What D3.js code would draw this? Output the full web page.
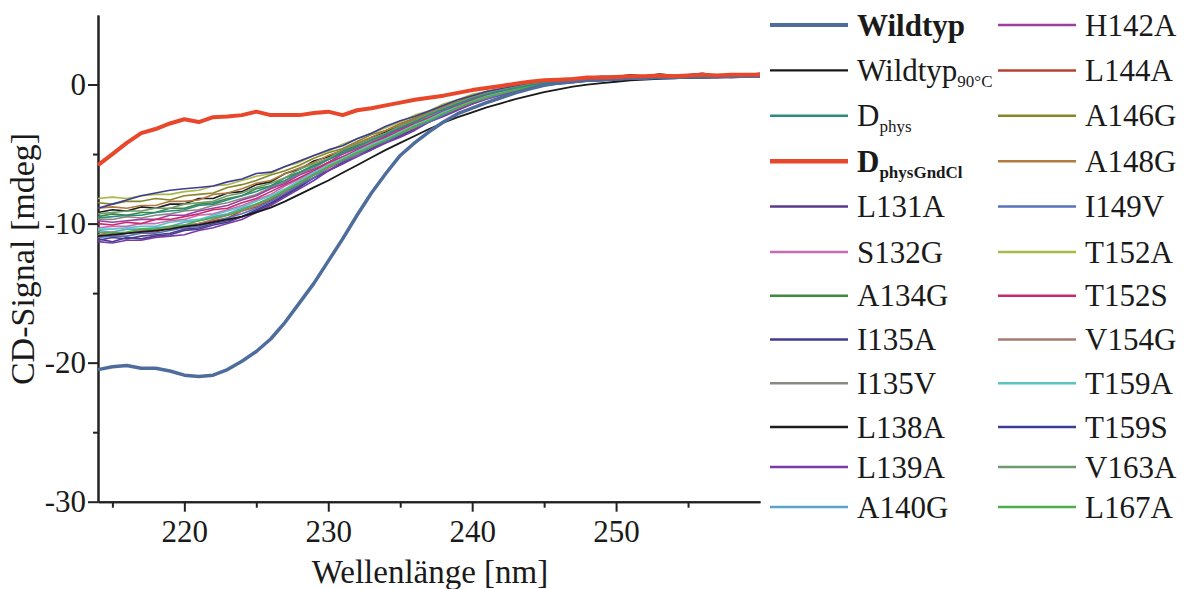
<!DOCTYPE html>
<html>
<head>
<meta charset="utf-8">
<script src="https://cdn.jsdelivr.net/npm/d3@7"></script>
<style>
body { margin: 0; background: #fff; }
svg text { font-family: 'Liberation Serif', 'Times New Roman', serif; fill: #1a1a1a; }
</style>
</head>
<body>
<svg id="chart" width="1186" height="589"></svg>
<script>
// wavelength grid [nm]
var wavelengths = [214, 215, 216, 217, 218, 219, 220, 221, 222, 223, 224, 225, 226, 227, 228, 229, 230,
	231, 232, 233, 234, 235, 236, 237, 238, 239, 240, 241, 242, 243, 244, 245, 246, 247, 248, 249, 250,
	251, 252, 253, 254, 255, 256, 257, 258, 259, 260];

var xTicks = [220, 230, 240, 250], xMinorTicks = [215, 225, 235, 245, 255];
var yTicks = [-30, -20, -10, 0], yMinorTicks = [-25, -15, -5];

// CD-Signal [mdeg]
var wildtyp = [-20.5, -20.3, -20.2, -20.4, -20.4, -20.6, -20.9, -21.0, -20.9, -20.5, -19.9, -19.2, -18.3, -17.1, -15.7, -14.3, -12.7,
	-11.1, -9.4, -7.8, -6.4, -5.1, -4.2, -3.4, -2.7, -2.1, -1.7, -1.3, -0.95, -0.6, -0.3, -0.05, 0.1, 0.2, 0.3, 0.35, 0.4,
	0.45, 0.45, 0.5, 0.5, 0.55, 0.55, 0.55, 0.6, 0.6, 0.6];
var wildtyp90 = [-10.9, -10.8, -10.7, -10.6, -10.5, -10.4, -10.2, -10.1, -9.9, -9.7, -9.5, -9.2, -8.85, -8.4, -7.9, -7.4, -6.9,
	-6.35, -5.8, -5.25, -4.7, -4.2, -3.7, -3.2, -2.75, -2.35, -2.0, -1.65, -1.35, -1.05, -0.8, -0.55, -0.35, -0.15, 0.0, 0.1, 0.2,
	0.3, 0.35, 0.4, 0.45, 0.5, 0.5, 0.55, 0.55, 0.6, 0.6];
var dphys = [-9.6, -9.5, -9.4, -9.4, -9.2, -9.1, -9.0, -8.7, -8.6, -8.3, -8.0, -7.7, -7.3, -6.9, -6.3, -5.9, -5.4,
	-4.9, -4.5, -4.0, -3.6, -3.1, -2.7, -2.2, -1.8, -1.4, -1.0, -0.7, -0.45, -0.25, -0.05, 0.1, 0.2, 0.3, 0.35, 0.4, 0.45,
	0.5, 0.5, 0.5, 0.55, 0.55, 0.6, 0.55, 0.6, 0.6, 0.6];
var dphysGndCl = [-5.8, -5.0, -4.2, -3.5, -3.2, -2.8, -2.5, -2.7, -2.35, -2.3, -2.2, -1.95, -2.2, -2.2, -2.2, -2.05, -1.95,
	-2.2, -1.85, -1.7, -1.5, -1.3, -1.1, -0.95, -0.8, -0.6, -0.4, -0.25, -0.1, 0.05, 0.2, 0.3, 0.35, 0.4, 0.5, 0.5, 0.55,
	0.6, 0.6, 0.65, 0.6, 0.65, 0.7, 0.65, 0.7, 0.7, 0.7];
var l131a = [-11.2, -11.0, -11.1, -10.9, -10.8, -10.7, -10.4, -10.3, -10.0, -9.8, -9.5, -9.0, -8.5, -7.9, -7.3, -6.7, -6.2,
	-5.6, -5.1, -4.6, -4.1, -3.7, -3.1, -2.7, -2.2, -1.8, -1.35, -1.0, -0.7, -0.45, -0.2, -0.05, 0.1, 0.2, 0.25, 0.3, 0.35,
	0.4, 0.45, 0.45, 0.5, 0.5, 0.5, 0.55, 0.55, 0.55, 0.6];
var s132g = [-10.3, -10.2, -10.2, -10.0, -10.0, -9.8, -9.7, -9.4, -9.3, -9.0, -8.7, -8.3, -7.9, -7.3, -6.8, -6.3, -5.7,
	-5.2, -4.8, -4.3, -3.8, -3.4, -2.9, -2.4, -2.0, -1.6, -1.15, -0.85, -0.6, -0.3, -0.1, 0.05, 0.15, 0.25, 0.3, 0.4, 0.45,
	0.45, 0.5, 0.5, 0.55, 0.5, 0.55, 0.55, 0.6, 0.55, 0.6];
var a134g = [-9.5, -9.3, -9.4, -9.2, -9.2, -8.9, -8.9, -8.6, -8.5, -8.2, -8.0, -7.5, -7.3, -6.7, -6.3, -5.8, -5.4,
	-4.8, -4.4, -4.0, -3.5, -3.1, -2.6, -2.2, -1.8, -1.35, -1.0, -0.7, -0.45, -0.2, 0.0, 0.1, 0.2, 0.3, 0.35, 0.4, 0.45,
	0.5, 0.5, 0.55, 0.55, 0.6, 0.55, 0.6, 0.6, 0.6, 0.65];
var i135a = [-11.1, -11.3, -11.0, -11.1, -10.9, -10.8, -10.5, -10.4, -10.1, -9.9, -9.5, -9.1, -8.6, -8.0, -7.4, -6.7, -6.2,
	-5.7, -5.1, -4.7, -4.1, -3.7, -3.2, -2.7, -2.25, -1.8, -1.4, -1.0, -0.75, -0.45, -0.2, -0.05, 0.1, 0.15, 0.25, 0.3, 0.35,
	0.4, 0.4, 0.45, 0.5, 0.5, 0.5, 0.55, 0.5, 0.55, 0.55];
var i135v = [-9.7, -9.7, -9.5, -9.6, -9.4, -9.3, -9.1, -9.0, -8.7, -8.5, -8.2, -7.9, -7.4, -7.0, -6.4, -6.0, -5.4,
	-5.0, -4.5, -4.1, -3.6, -3.2, -2.7, -2.3, -1.9, -1.45, -1.05, -0.75, -0.5, -0.25, -0.05, 0.1, 0.2, 0.3, 0.4, 0.45, 0.5,
	0.5, 0.55, 0.55, 0.6, 0.6, 0.6, 0.65, 0.6, 0.65, 0.65];
var l138a = [-9.2, -9.0, -9.1, -8.8, -8.9, -8.6, -8.6, -8.2, -8.2, -7.8, -7.7, -7.2, -7.0, -6.4, -6.1, -5.5, -5.2,
	-4.7, -4.3, -3.8, -3.4, -2.9, -2.5, -2.1, -1.7, -1.3, -0.9, -0.6, -0.4, -0.1, 0.05, 0.2, 0.3, 0.45, 0.5, 0.6, 0.55,
	0.7, 0.6, 0.75, 0.65, 0.7, 0.8, 0.65, 0.75, 0.7, 0.8];
var l139a = [-11.3, -11.4, -11.2, -11.2, -11.0, -10.9, -10.8, -10.5, -10.3, -10.0, -9.7, -9.2, -8.7, -8.1, -7.5, -6.9, -6.2,
	-5.7, -5.2, -4.7, -4.2, -3.8, -3.3, -2.7, -2.3, -1.85, -1.4, -1.05, -0.75, -0.45, -0.25, -0.05, 0.05, 0.15, 0.25, 0.3, 0.35,
	0.4, 0.4, 0.45, 0.45, 0.5, 0.5, 0.5, 0.55, 0.55, 0.55];
var a140g = [-10.5, -10.6, -10.4, -10.4, -10.3, -10.2, -9.9, -9.8, -9.5, -9.3, -8.9, -8.6, -8.1, -7.6, -7.0, -6.4, -5.9,
	-5.4, -4.9, -4.4, -3.9, -3.5, -3.0, -2.5, -2.1, -1.65, -1.2, -0.9, -0.65, -0.35, -0.15, 0.0, 0.15, 0.25, 0.3, 0.35, 0.4,
	0.45, 0.45, 0.5, 0.5, 0.5, 0.55, 0.55, 0.55, 0.6, 0.6];
var h142a = [-9.8, -9.9, -9.8, -9.7, -9.7, -9.4, -9.4, -9.1, -8.9, -8.7, -8.3, -8.0, -7.5, -7.1, -6.5, -6.1, -5.6,
	-5.0, -4.6, -4.2, -3.7, -3.2, -2.8, -2.4, -1.9, -1.5, -1.1, -0.75, -0.5, -0.25, -0.05, 0.1, 0.2, 0.3, 0.35, 0.4, 0.45,
	0.5, 0.5, 0.55, 0.55, 0.55, 0.6, 0.6, 0.6, 0.6, 0.65];
var l144a = [-10.8, -10.9, -10.7, -10.6, -10.6, -10.3, -10.3, -10.0, -9.8, -9.6, -9.1, -8.8, -8.3, -7.7, -7.2, -6.5, -6.0,
	-5.5, -5.0, -4.5, -4.0, -3.6, -3.0, -2.6, -2.1, -1.7, -1.3, -0.95, -0.65, -0.4, -0.15, 0.0, 0.1, 0.2, 0.25, 0.35, 0.4,
	0.4, 0.45, 0.5, 0.5, 0.5, 0.55, 0.55, 0.55, 0.6, 0.6];
var a146g = [-8.5, -8.6, -8.4, -8.4, -8.2, -8.3, -8.0, -7.9, -7.8, -7.4, -7.2, -6.9, -6.5, -6.2, -5.8, -5.3, -4.9,
	-4.6, -4.1, -3.6, -3.3, -2.8, -2.4, -2.0, -1.5, -1.2, -0.8, -0.5, -0.3, -0.1, 0.05, 0.2, 0.3, 0.35, 0.45, 0.5, 0.5,
	0.55, 0.6, 0.55, 0.6, 0.6, 0.65, 0.6, 0.65, 0.65, 0.7];
var a148g = [-8.9, -8.8, -8.9, -8.7, -8.7, -8.4, -8.4, -8.3, -7.9, -7.8, -7.5, -7.1, -6.9, -6.4, -6.0, -5.6, -5.1,
	-4.7, -4.2, -3.8, -3.3, -2.9, -2.5, -2.1, -1.6, -1.3, -0.9, -0.6, -0.35, -0.15, 0.05, 0.15, 0.3, 0.35, 0.4, 0.5, 0.5,
	0.55, 0.55, 0.6, 0.6, 0.55, 0.6, 0.65, 0.6, 0.65, 0.65];
var i149v = [-11.0, -10.9, -10.9, -10.7, -10.7, -10.5, -10.3, -10.2, -9.9, -9.6, -9.3, -8.9, -8.4, -7.8, -7.2, -6.7, -6.0,
	-5.5, -5.1, -4.5, -4.1, -3.6, -3.1, -2.7, -2.2, -1.7, -1.3, -1.0, -0.7, -0.4, -0.2, -0.05, 0.1, 0.2, 0.25, 0.3, 0.35,
	0.4, 0.45, 0.45, 0.5, 0.5, 0.5, 0.55, 0.55, 0.55, 0.6];
var t152a = [-8.2, -8.1, -8.2, -8.0, -7.9, -7.9, -7.7, -7.6, -7.3, -7.2, -6.9, -6.6, -6.4, -5.9, -5.6, -5.1, -4.8,
	-4.3, -3.9, -3.5, -3.1, -2.7, -2.2, -1.9, -1.4, -1.1, -0.7, -0.5, -0.3, -0.1, 0.1, 0.25, 0.35, 0.4, 0.5, 0.55, 0.6,
	0.6, 0.65, 0.6, 0.65, 0.7, 0.65, 0.7, 0.7, 0.7, 0.75];
var t152s = [-10.0, -10.1, -9.9, -10.0, -9.7, -9.7, -9.5, -9.3, -9.0, -8.9, -8.5, -8.2, -7.7, -7.2, -6.7, -6.2, -5.6,
	-5.2, -4.7, -4.2, -3.8, -3.3, -2.8, -2.4, -2.0, -1.55, -1.1, -0.8, -0.55, -0.3, -0.1, 0.05, 0.15, 0.25, 0.35, 0.4, 0.45,
	0.5, 0.5, 0.5, 0.55, 0.55, 0.55, 0.6, 0.6, 0.6, 0.6];
var v154g = [-10.8, -10.6, -10.7, -10.5, -10.5, -10.3, -10.1, -10.0, -9.7, -9.4, -9.1, -8.7, -8.2, -7.7, -7.0, -6.5, -6.0,
	-5.4, -5.0, -4.4, -4.0, -3.5, -3.1, -2.5, -2.1, -1.7, -1.25, -0.95, -0.65, -0.4, -0.15, 0.0, 0.1, 0.2, 0.3, 0.35, 0.4,
	0.45, 0.45, 0.5, 0.5, 0.5, 0.55, 0.55, 0.6, 0.55, 0.6];
var t159a = [-10.4, -10.4, -10.3, -10.2, -10.2, -9.9, -9.8, -9.7, -9.4, -9.1, -8.8, -8.4, -8.0, -7.5, -6.9, -6.3, -5.8,
	-5.3, -4.8, -4.3, -3.9, -3.4, -2.9, -2.5, -2.0, -1.6, -1.2, -0.85, -0.6, -0.35, -0.1, 0.05, 0.15, 0.25, 0.3, 0.35, 0.4,
	0.45, 0.5, 0.5, 0.5, 0.55, 0.55, 0.55, 0.6, 0.6, 0.6];
var t159s = [-8.9, -8.6, -8.3, -8.0, -7.8, -7.6, -7.5, -7.4, -7.3, -7.0, -6.8, -6.4, -6.3, -5.9, -5.5, -5.1, -4.7,
	-4.4, -3.9, -3.5, -3.0, -2.6, -2.3, -1.9, -1.5, -1.1, -0.8, -0.5, -0.3, -0.1, 0.1, 0.2, 0.3, 0.4, 0.45, 0.5, 0.55,
	0.6, 0.6, 0.6, 0.65, 0.65, 0.6, 0.65, 0.7, 0.65, 0.7];
var v163a = [-9.3, -9.2, -9.1, -9.1, -8.9, -8.9, -8.6, -8.5, -8.4, -8.0, -7.8, -7.4, -7.1, -6.7, -6.1, -5.7, -5.3,
	-4.7, -4.3, -3.9, -3.5, -3.0, -2.6, -2.1, -1.7, -1.3, -0.95, -0.65, -0.4, -0.2, 0.0, 0.1, 0.2, 0.3, 0.4, 0.45, 0.5,
	0.5, 0.55, 0.55, 0.6, 0.6, 0.6, 0.65, 0.6, 0.65, 0.65];
var l167a = [-10.6, -10.7, -10.6, -10.4, -10.4, -10.2, -10.1, -9.8, -9.6, -9.4, -9.0, -8.6, -8.2, -7.6, -7.1, -6.5, -5.9,
	-5.4, -4.9, -4.5, -4.0, -3.5, -3.0, -2.6, -2.1, -1.65, -1.25, -0.9, -0.65, -0.35, -0.15, 0.0, 0.1, 0.2, 0.3, 0.35, 0.4,
	0.45, 0.5, 0.5, 0.5, 0.55, 0.55, 0.6, 0.55, 0.6, 0.6];

// legend order (column 1 then column 2)
var seriesKeys = ['wildtyp', 'wildtyp90', 'dphys', 'dphysGndCl', 'L131A', 'S132G', 'A134G', 'I135A', 'I135V', 'L138A', 'L139A', 'A140G',
	'H142A', 'L144A', 'A146G', 'A148G', 'I149V', 'T152A', 'T152S', 'V154G', 'T159A', 'T159S', 'V163A', 'L167A'];
var labelMain = ['Wildtyp', 'Wildtyp', 'D', 'D', 'L131A', 'S132G', 'A134G', 'I135A', 'I135V', 'L138A', 'L139A', 'A140G',
	'H142A', 'L144A', 'A146G', 'A148G', 'I149V', 'T152A', 'T152S', 'V154G', 'T159A', 'T159S', 'V163A', 'L167A'];
var labelSub = ['', '90°C', 'phys', 'physGndCl', '', '', '', '', '', '', '', '',
	'', '', '', '', '', '', '', '', '', '', '', ''];
var seriesData = [wildtyp, wildtyp90, dphys, dphysGndCl, l131a, s132g, a134g, i135a, i135v, l138a, l139a, a140g,
	h142a, l144a, a146g, a148g, i149v, t152a, t152s, v154g, t159a, t159s, v163a, l167a];

var colors = ['#4e6d9c', '#1a1a1a', '#2e8b7e', '#e8472b', '#5b3a8c', '#c86ab4', '#3d8b3d', '#3f3d8f', '#8a8a84', '#1c1c1c', '#7b3aa8', '#5ca3cc',
	'#9c3ea0', '#b5412f', '#86862a', '#b27a3c', '#5574b8', '#a8b84a', '#c82a6e', '#a87b72', '#5cc4c0', '#3c3c94', '#6e9a6e', '#4cae48'];
var heavy = { wildtyp: 3.5, dphysGndCl: 4, wildtyp90: 1.8 };

var svg = d3.select('#chart');
var x = d3.scaleLinear().domain([214, 260]).range([98, 760]);
var y = d3.scaleLinear().domain([-30, 5]).range([501.7, 15]);

function styleAxis(g, size) {
	g.select('.domain').attr('stroke', '#222').attr('stroke-width', 2);
	g.selectAll('.tick line').attr('stroke', '#222').attr('stroke-width', 2);
	g.selectAll('text').style('font-size', size + 'px').style('fill', '#1a1a1a');
}

var plain = function (d) { return String(d); };

svg.append('g').attr('transform', 'translate(0,501.7)')
	.call(d3.axisBottom(x).tickValues(xMinorTicks).tickSize(6).tickSizeOuter(0).tickFormat(''))
	.call(styleAxis, 31);
svg.append('g').attr('transform', 'translate(0,501.7)')
	.call(d3.axisBottom(x).tickValues(xTicks).tickSize(10).tickSizeOuter(0).tickPadding(8).tickFormat(plain))
	.call(styleAxis, 31);
svg.append('g').attr('transform', 'translate(98,0)')
	.call(d3.axisLeft(y).tickValues(yMinorTicks).tickSize(5).tickSizeOuter(0).tickFormat(''))
	.call(styleAxis, 31);
svg.append('g').attr('transform', 'translate(98,0)')
	.call(d3.axisLeft(y).tickValues(yTicks).tickSize(10).tickSizeOuter(0).tickPadding(2).tickFormat(plain))
	.call(styleAxis, 31);

// axis titles
svg.append('text').attr('x', 430).attr('y', 583).attr('text-anchor', 'middle')
	.style('font-size', '33px').text('Wellenlänge [nm]');
svg.append('text').attr('transform', 'translate(34,259) rotate(-90)').attr('text-anchor', 'middle')
	.style('font-size', '34px').text('CD-Signal [mdeg]');

// curves: mutants first, then references on top
var line = d3.line()
	.x(function (d, i) { return x(wavelengths[i]); })
	.y(function (d) { return y(d); });

var drawOrder = d3.range(4, seriesKeys.length).concat([2, 1, 0, 3]);
svg.append('g').attr('class', 'curves').selectAll('path')
	.data(drawOrder).enter().append('path')
	.attr('d', function (k) { return line(seriesData[k]); })
	.attr('fill', 'none')
	.attr('stroke', function (k) { return colors[k]; })
	.attr('stroke-width', function (k) { return heavy[seriesKeys[k]] || 1.6; })
	.attr('stroke-linejoin', 'round');

// legend
var legendRow = d3.scaleLinear().domain([0, 5, 9, 11]).range([25, 252, 427, 507]);
var legendCols = [{ x1: 770, x2: 848, tx: 857 }, { x1: 998, x2: 1076, tx: 1085 }];

var items = svg.append('g').attr('class', 'legend').selectAll('g')
	.data(seriesKeys).enter().append('g')
	.attr('transform', function (d, i) {
		return 'translate(0,' + legendRow(i % 12) + ')';
	});

items.append('line')
	.attr('x1', function (d, i) { return legendCols[Math.floor(i / 12)].x1; })
	.attr('x2', function (d, i) { return legendCols[Math.floor(i / 12)].x2; })
	.attr('stroke', function (d, i) { return colors[i]; })
	.attr('stroke-width', function (d) { return heavy[d] ? heavy[d] + 0.5 : 2.5; });

var labels = items.append('text')
	.attr('x', function (d, i) { return legendCols[Math.floor(i / 12)].tx; })
	.attr('dy', '0.34em')
	.style('font-size', '31px')
	.style('font-weight', function (d) { return (d === 'wildtyp' || d === 'dphysGndCl') ? 'bold' : 'normal'; });

labels.append('tspan').text(function (d, i) { return labelMain[i]; });
labels.append('tspan')
	.attr('dy', 6)
	.style('font-size', '17px')
	.text(function (d, i) { return labelSub[i]; });
</script>
</body>
</html>
